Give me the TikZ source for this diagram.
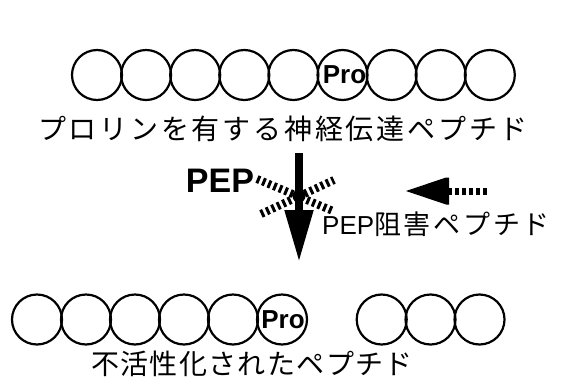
\documentclass[tikz,border=0pt]{standalone}
\usepackage{fontspec}
\setmainfont{Liberation Sans}
\newfontfamily\jpA[LetterSpace=10]{Noto Sans CJK JP}
\newfontfamily\jpB[LetterSpace=5]{Noto Sans CJK JP}
\newfontfamily\jpC[LetterSpace=10]{Noto Sans CJK JP}
\usetikzlibrary{arrows.meta}
\begin{document}
\begin{tikzpicture}[x=1pt,y=-1pt,
  res/.style={draw,line width=2.2pt,circle,minimum size=50pt,inner sep=0pt},
  pro/.style={font=\bfseries\fontsize{26}{26}\selectfont},
  lbl/.style={inner sep=0pt}]
\useasboundingbox (0,0) rectangle (564,388);
% top peptide
\foreach \i in {0,...,8} {
  \node[res] (t\i) at ({97+49.1*\i},75) {};
}
\node[pro] at ([xshift=2pt]t5) {Pro};
\node[lbl,font=\jpA\fontsize{28}{28}\selectfont] (toptext) at (283,129) {プロリンを有する神経伝達ペプチド};
% bottom peptide
\foreach \i in {0,...,5} {
  \node[res] (b\i) at ({37+49*\i},319.5) {};
}
\foreach \i/\x in {6/381.7,7/430.5,8/479.5} {
  \node[res] (b\i) at (\x,319.5) {};
}
\node[pro] at ([xshift=1pt]b5) {Pro};
\node[lbl,font=\jpB\fontsize{28}{28}\selectfont] (bottext) at (252,364) {不活性化されたペプチド};
% PEP
\node[lbl,font=\bfseries\fontsize{34}{34}\selectfont] (pep) at (220,180.5) {PEP};
\coordinate (xa1) at (257,179);
\coordinate (xa2) at (333,211);
\coordinate (xb1) at (261,214);
\coordinate (xb2) at (334,180);
\draw[line width=8pt,dash pattern=on 3pt off 3pt] (xa1) -- (xa2);
\draw[line width=8pt,dash pattern=on 3pt off 3pt] (xb1) -- (xb2);
\coordinate (dtop) at (299,153);
\coordinate (dbot) at (299,262);
\draw[line width=8pt,-{Triangle[width=27pt,length=52pt]}] (dtop) -- (dbot);
\coordinate (hit) at (299,196);
\fill (hit) circle (6.5pt);
% inhibitor
\coordinate (ltail) at (487,191);
\coordinate (lbase) at (446,191);
\coordinate (ltip) at (406,191);
\draw[line width=7pt,dash pattern=on 4pt off 3pt] (ltail) -- (lbase);
\fill (ltip) -- ([yshift=-13.5pt]lbase) -- ([xshift=3pt,yshift=-13.5pt]lbase) -- ([xshift=3pt,yshift=13.5pt]lbase) -- ([yshift=13.5pt]lbase) -- cycle;
\node[lbl,anchor=west] (inh) at (322,224) {\fontsize{26}{26}\selectfont PEP\jpC\fontsize{27}{27}\selectfont 阻害ペプチド};
\end{tikzpicture}
\end{document}
